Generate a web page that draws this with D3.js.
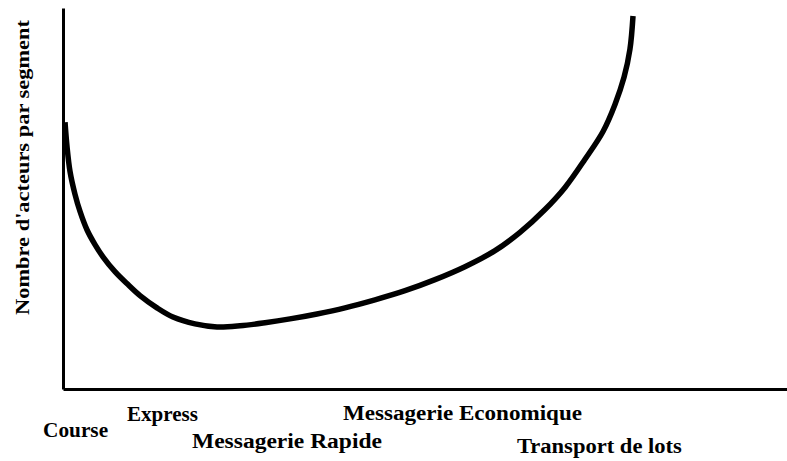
<!DOCTYPE html>
<html>
<head>
<meta charset="utf-8">
<script src="https://cdn.jsdelivr.net/npm/d3@7"></script>
<style>
  html, body { margin: 0; padding: 0; background: #fff; }
  svg { display: block; }
</style>
</head>
<body>
<div id="chart"></div>
<script>
// segment position (0 = Course ... 100 = end of axis) vs number of players
var curveX = [0.28, 0.55, 0.97, 1.66, 2.35, 3.31, 4.42, 5.52, 7.18, 8.98, 10.64, 12.98,
              15.19, 18.23, 21.27, 24.45, 27.90, 31.35, 35.08, 38.95, 43.09, 47.24, 51.38,
              55.52, 59.67, 63.12, 66.57, 69.34, 72.10, 74.59, 76.24, 77.49, 78.31, 78.73];
var curveY = [70.0, 63.7, 57.1, 51.1, 46.6, 41.8, 37.9, 34.7, 30.8, 27.4, 24.5, 21.3,
              18.9, 17.1, 16.3, 16.6, 17.4, 18.4, 19.7, 21.3, 23.4, 25.8, 28.7,
              32.1, 36.3, 41.1, 47.1, 52.9, 60.3, 67.6, 74.7, 81.8, 89.2, 97.9];

var categories = ['Course', 'Express', 'Messagerie Rapide', 'Messagerie Economique', 'Transport de lots'];
var categoryPos = [1.74, 13.74, 30.94, 55.18, 74.09];
var yLabel = "Nombre d'acteurs par segment";

var width = 787, height = 461;
var dims = {
  left: 63,
  right: 787,
  top: 8,
  bottom: 389
};

// label layout: baseline and fitted width for each category
var labelBaseline = [437, 421, 448, 420, 453];
var labelWidth = [65, 71, 190, 239, 165];

var svg = d3.select('#chart').append('svg')
  .attr('width', width)
  .attr('height', height);

var x = d3.scaleLinear().domain([0, 100]).range([dims.left, dims.right]);
var y = d3.scaleLinear().domain([0, 100]).range([dims.bottom, dims.top]);

var points = curveX.map(function(v, i) { return [v, curveY[i]]; });

var line = d3.line()
  .x(function(d) { return x(d[0]); })
  .y(function(d) { return y(d[1]); })
  .curve(d3.curveCatmullRom.alpha(0.5));

svg.append('path')
  .datum(points)
  .attr('d', line)
  .attr('fill', 'none')
  .attr('stroke', '#000')
  .attr('stroke-width', 5.5);

var gx = svg.append('g')
  .attr('transform', 'translate(0,' + dims.bottom + ')')
  .call(d3.axisBottom(x).ticks(0).tickSizeOuter(0));
var gy = svg.append('g')
  .attr('transform', 'translate(' + dims.left + ',0)')
  .call(d3.axisLeft(y).ticks(0).tickSizeOuter(0));

[gx, gy].forEach(function(g) {
  g.select('.domain').attr('stroke', '#000').attr('stroke-width', 3);
});

var font = "'Liberation Serif', 'DejaVu Serif', serif";

svg.selectAll('text.cat')
  .data(categories)
  .enter().append('text')
  .attr('class', 'cat')
  .attr('x', function(d, i) { return x(categoryPos[i]); })
  .attr('y', function(d, i) { return labelBaseline[i]; })
  .attr('text-anchor', 'middle')
  .attr('font-family', font)
  .attr('font-weight', 'bold')
  .attr('font-size', 20)
  .attr('textLength', function(d, i) { return labelWidth[i]; })
  .attr('lengthAdjust', 'spacingAndGlyphs')
  .attr('fill', '#000')
  .text(function(d) { return d; });

svg.append('text')
  .attr('transform', 'translate(29,167.5) rotate(-90)')
  .attr('text-anchor', 'middle')
  .attr('font-family', font)
  .attr('font-weight', 'bold')
  .attr('font-size', 19)
  .attr('textLength', 295)
  .attr('lengthAdjust', 'spacingAndGlyphs')
  .attr('fill', '#000')
  .text(yLabel);
</script>
</body>
</html>
